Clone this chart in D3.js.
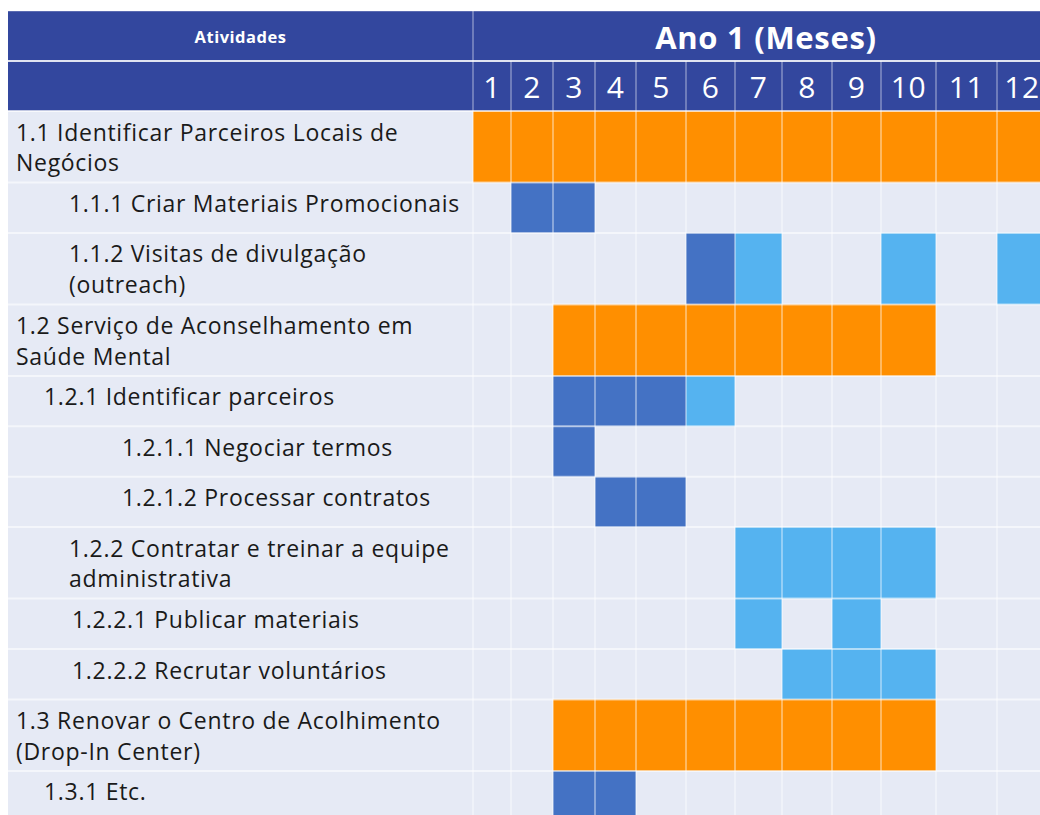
<!DOCTYPE html>
<html>
<head>
<meta charset="utf-8">
<script src="https://cdn.jsdelivr.net/npm/d3@7"></script>
<style>
  html, body { margin: 0; padding: 0; background: #ffffff; }
  svg { display: block; }
</style>
</head>
<body>
<div id="chart"></div>
<script>
// ---------------- DATA ----------------
const headerActivities = "Atividades";
const headerPeriod = "Ano 1 (Meses)";
const months = ["1", "2", "3", "4", "5", "6", "7", "8", "9", "10", "11", "12"];

const activities = [
  ["1.1 Identificar Parceiros Locais de", "Negócios"],
  ["1.1.1 Criar Materiais Promocionais"],
  ["1.1.2 Visitas de divulgação", "(outreach)"],
  ["1.2 Serviço de Aconselhamento em", "Saúde Mental"],
  ["1.2.1 Identificar parceiros"],
  ["1.2.1.1 Negociar termos"],
  ["1.2.1.2 Processar contratos"],
  ["1.2.2 Contratar e treinar a equipe", "administrativa"],
  ["1.2.2.1 Publicar materiais"],
  ["1.2.2.2 Recrutar voluntários"],
  ["1.3 Renovar o Centro de Acolhimento", "(Drop-In Center)"],
  ["1.3.1 Etc."]
];

// months active per activity (orange = main phase)
const phaseMonths = [
  [1, 2, 3, 4, 5, 6, 7, 8, 9, 10, 11, 12],
  [], [],
  [3, 4, 5, 6, 7, 8, 9, 10],
  [], [], [], [], [], [],
  [3, 4, 5, 6, 7, 8, 9, 10],
  []
];
// dark blue
const taskMonths = [
  [], [2, 3], [6], [], [3, 4, 5], [3], [4, 5], [], [], [], [], [3, 4]
];
// light blue
const subtaskMonths = [
  [], [], [7, 10, 12], [], [6], [], [], [7, 8, 9, 10], [7, 9], [8, 9, 10], [], []
];

// ---------------- LAYOUT / STYLE ----------------
const W = 1040, H = 815;
const tableLeft = 8, tableTop = 11;
const activityColRight = 473;
const monthEdges = [473, 511, 553, 595, 636, 686, 735, 782, 832, 881, 936, 997, 1047];
const headerRowH = 50;
const rowHeightFor = lines => lines === 1 ? 50.4 : 71.5;
const indents = [16, 69, 69, 16, 44, 122, 122, 69, 72, 72, 16, 44];
const colors = {
  header: "#33479E",
  bg: "#E6EAF5",
  phase: "#FF8F00",
  task: "#4472C4",
  subtask: "#55B3F0",
  text: "#1A1A1A"
};
const fontFamily = "'Open Sans', 'Noto Sans', sans-serif";

// ---------------- DRAW ----------------
const svg = d3.select("#chart").append("svg")
  .attr("width", W).attr("height", H);

const x = d3.scaleLinear().domain(d3.range(0, 13)).range(monthEdges);

const heights = activities.map(a => rowHeightFor(a.length));
const bodyTop = tableTop + 2 * headerRowH;
const tops = [bodyTop, ...d3.cumsum(heights).map(v => bodyTop + v)];
const y = d3.scaleOrdinal().domain(d3.range(activities.length)).range(tops.slice(0, activities.length));
const tableBottom = tops[tops.length - 1];
const tableRight = monthEdges[monthEdges.length - 1];

// Header background
svg.append("rect")
  .attr("x", tableLeft).attr("y", tableTop)
  .attr("width", tableRight - tableLeft).attr("height", 2 * headerRowH)
  .attr("fill", colors.header);

// Body background
svg.append("rect")
  .attr("x", tableLeft).attr("y", bodyTop)
  .attr("width", tableRight - tableLeft).attr("height", tableBottom - bodyTop)
  .attr("fill", colors.bg);

// Cells
const cells = [];
activities.forEach((a, i) => {
  phaseMonths[i].forEach(m => cells.push({ row: i, month: m, type: "phase" }));
  taskMonths[i].forEach(m => cells.push({ row: i, month: m, type: "task" }));
  subtaskMonths[i].forEach(m => cells.push({ row: i, month: m, type: "subtask" }));
});

svg.append("g").selectAll("rect")
  .data(cells)
  .join("rect")
  .attr("x", d => x(d.month - 1))
  .attr("y", d => y(d.row))
  .attr("width", d => x(d.month) - x(d.month - 1))
  .attr("height", d => heights[d.row])
  .attr("fill", d => colors[d.type]);

// Grid lines: body horizontal
const grid = svg.append("g");
grid.selectAll("line.h")
  .data(tops.slice(1))
  .join("line")
  .attr("class", "h")
  .attr("x1", tableLeft).attr("x2", tableRight)
  .attr("y1", d => d).attr("y2", d => d)
  .attr("stroke", "#ffffff").attr("stroke-opacity", 0.55).attr("stroke-width", 2);

// body vertical lines
grid.selectAll("line.v")
  .data(monthEdges)
  .join("line")
  .attr("class", "v")
  .attr("x1", d => d).attr("x2", d => d)
  .attr("y1", bodyTop).attr("y2", tableBottom)
  .attr("stroke", "#ffffff").attr("stroke-opacity", 0.5).attr("stroke-width", 1.5);

// header vertical lines (row 2: month dividers; both rows: activity divider)
grid.append("line")
  .attr("x1", activityColRight).attr("x2", activityColRight)
  .attr("y1", tableTop).attr("y2", bodyTop)
  .attr("stroke", "#ffffff").attr("stroke-opacity", 0.4).attr("stroke-width", 1.5);
grid.selectAll("line.hv")
  .data(monthEdges.slice(1))
  .join("line")
  .attr("class", "hv")
  .attr("x1", d => d).attr("x2", d => d)
  .attr("y1", tableTop + headerRowH).attr("y2", bodyTop)
  .attr("stroke", "#ffffff").attr("stroke-opacity", 0.4).attr("stroke-width", 1.5);

// header horizontal separator
grid.append("line")
  .attr("x1", tableLeft).attr("x2", tableRight)
  .attr("y1", tableTop + headerRowH).attr("y2", tableTop + headerRowH)
  .attr("stroke", "#ffffff").attr("stroke-opacity", 0.85).attr("stroke-width", 2);
grid.append("line")
  .attr("x1", tableLeft).attr("x2", tableRight)
  .attr("y1", bodyTop).attr("y2", bodyTop)
  .attr("stroke", "#ffffff").attr("stroke-opacity", 0.7).attr("stroke-width", 2);
// top edge
grid.append("line")
  .attr("x1", tableLeft).attr("x2", tableRight)
  .attr("y1", tableTop + 0.5).attr("y2", tableTop + 0.5)
  .attr("stroke", "#ffffff").attr("stroke-opacity", 0.2).attr("stroke-width", 1);

// Header texts
svg.append("text")
  .attr("x", (tableLeft + activityColRight) / 2)
  .attr("y", tableTop + headerRowH / 2)
  .attr("text-anchor", "middle").attr("dominant-baseline", "central")
  .attr("font-family", fontFamily).attr("font-weight", 700).attr("font-size", 16.5)
  .attr("letter-spacing", 0.5)
  .attr("fill", "#ffffff")
  .text(headerActivities);

svg.append("text")
  .attr("x", 766)
  .attr("y", tableTop + headerRowH / 2 + 1)
  .attr("text-anchor", "middle").attr("dominant-baseline", "central")
  .attr("font-family", fontFamily).attr("font-weight", 700).attr("font-size", 31)
  .attr("letter-spacing", 0.7)
  .attr("fill", "#ffffff")
  .text(headerPeriod);

svg.append("g").selectAll("text")
  .data(months)
  .join("text")
  .attr("x", (d, i) => (x(i) + x(i + 1)) / 2)
  .attr("y", tableTop + headerRowH * 1.5)
  .attr("text-anchor", "middle").attr("dominant-baseline", "central")
  .attr("font-family", fontFamily).attr("font-size", 30)
  .attr("letter-spacing", 0.5)
  .attr("fill", "#ffffff")
  .text(d => d);

// Activity labels
const labels = svg.append("g").selectAll("text")
  .data(activities)
  .join("text")
  .attr("font-family", fontFamily).attr("font-size", 23)
  .attr("letter-spacing", 0.7)
  .attr("fill", colors.text);

labels.each(function(d, i) {
  d3.select(this).selectAll("tspan")
    .data(d)
    .join("tspan")
    .attr("x", indents[i])
    .attr("y", (line, j) => y(i) + 29.5 + j * 30.8)
    .text(line => line);
});
</script>
</body>
</html>
